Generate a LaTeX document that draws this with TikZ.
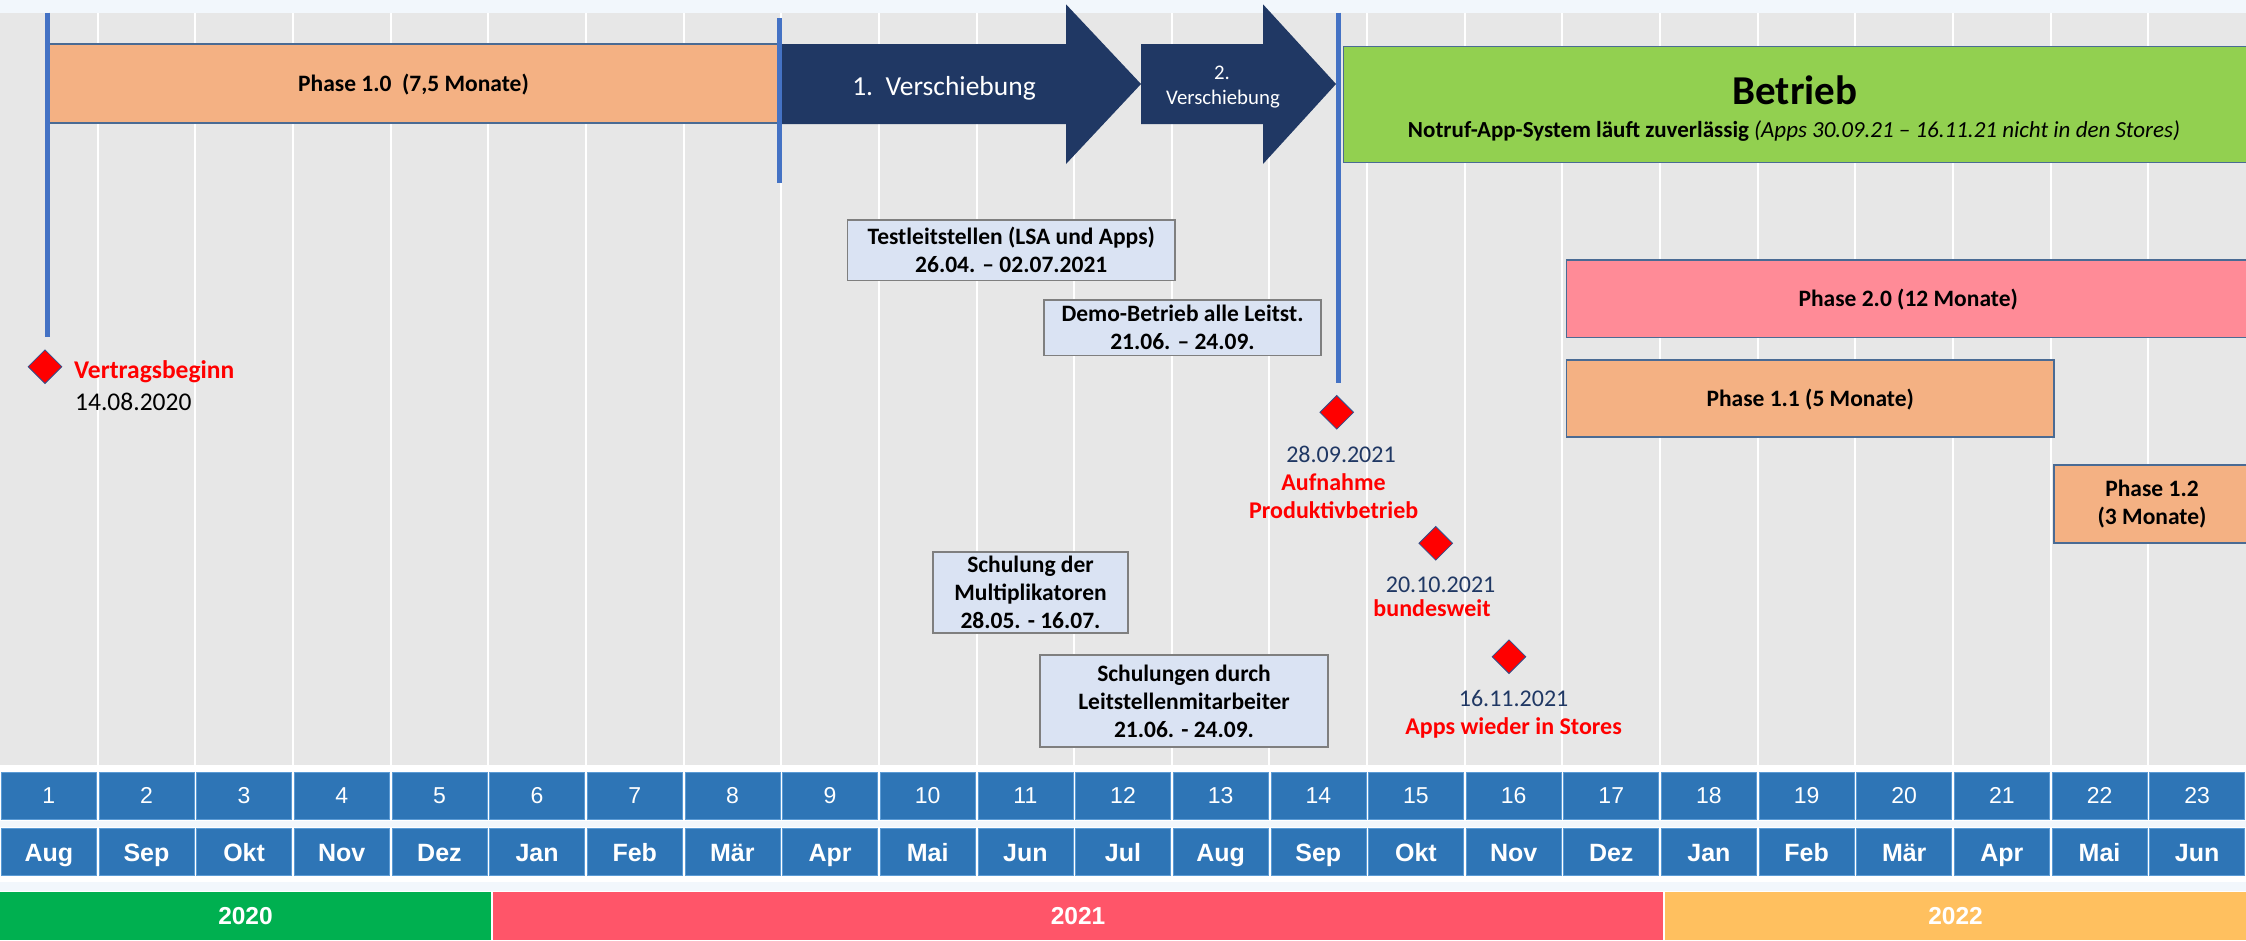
\documentclass[tikz,border=0pt]{standalone}
\usepackage{fontspec}
\setmainfont{Carlito}
\newfontfamily\arialfont{Liberation Sans}
\usetikzlibrary{shapes.geometric}

\definecolor{gridgrey}{HTML}{E7E7E7}
\definecolor{topband}{HTML}{F2F7FC}
\definecolor{phaseorange}{HTML}{F4B183}
\definecolor{phasepink}{HTML}{FF8B97}
\definecolor{betriebgreen}{HTML}{92D050}
\definecolor{navy}{HTML}{203864}
\definecolor{notefill}{HTML}{DAE3F3}
\definecolor{noteborder}{HTML}{7F7F7F}
\definecolor{markerblue}{HTML}{4472C4}
\definecolor{cellblue}{HTML}{2E75B6}
\definecolor{cellborder}{HTML}{5B9BD5}
\definecolor{boxedge}{HTML}{4A6B94}
\definecolor{yeargreen}{HTML}{00B050}
\definecolor{yearred}{HTML}{FF5569}
\definecolor{yearorange}{HTML}{FFC05F}
\definecolor{diamondedge}{HTML}{2F528F}

\newcommand\fsz[2]{\fontsize{#1}{#2}\selectfont}
\def\colw{97.652}

\begin{document}
\begin{tikzpicture}[x=1pt,y=-1pt,
  phasebox/.style={draw=boxedge, line width=1.2pt, inner sep=0pt,
    font=\fsz{23.5}{28}\bfseries, text height=15pt, text depth=0pt},
  phasebox2/.style={draw=boxedge, line width=1.2pt, inner sep=0pt,
    align=center, font=\fsz{23.5}{28}\bfseries},
  notebox/.style={draw=noteborder, line width=1.5pt, fill=notefill,
    inner sep=0pt, align=center, font=\fsz{23.5}{28}\bfseries},
  marker/.style={markerblue, line width=5pt},
  milestone/.style={diamond, draw=diamondedge, line width=0.8pt, fill=red,
    minimum width=34pt, minimum height=34pt, inner sep=0pt},
  datelabel/.style={anchor=base, text=navy, inner sep=0pt, font=\fsz{24}{28}},
  eventlabel/.style={anchor=base, text=red, inner sep=0pt, font=\fsz{24}{28}\bfseries},
  shiftlabel/.style={anchor=base, text=white, inner sep=0pt},
  numcell/.style={fill=cellblue, draw=cellborder, line width=0.6pt,
    minimum width=95pt, minimum height=46.7pt, inner sep=0pt, text=white,
    font=\arialfont\fsz{23}{28}},
  monthcell/.style={fill=cellblue, draw=cellborder, line width=0.6pt,
    minimum width=95pt, minimum height=47.4pt, inner sep=0pt, text=white,
    font=\arialfont\bfseries\fsz{25}{28}, text height=18pt, text depth=0pt},
  yearbar/.style={minimum height=48.3pt, inner sep=0pt, text=white,
    font=\arialfont\bfseries\fsz{24.5}{28}, text height=17.5pt, text depth=0pt}]

\useasboundingbox (0,0) rectangle (2246,940);

% background, month grid
\fill[white] (0,0) rectangle (2246,940);
\fill[topband] (0,0) rectangle (2246,12.7);
\fill[gridgrey] (0,12.7) rectangle (2246,765);
\foreach \k in {1,...,22}
  \draw[white, line width=2pt] ({\k*\colw},12.7) -- ({\k*\colw},765);
\fill[topband] (0,821) rectangle (2246,826.5);
\fill[topband] (0,881.7) rectangle (2246,891);

% phase 1.0
\node[phasebox, fill=phaseorange, minimum width=733pt, minimum height=79pt]
  (phase10) at (413.5,83.5) {Phase 1.0\ \ (7,5 Monate)};

% postponement arrows
\fill[navy] (779,44) -- (1066,44) -- (1066,4.3) -- (1141,84) -- (1066,164)
  -- (1066,124) -- (779,124) -- cycle;
\fill[navy] (1141,44) -- (1263,44) -- (1263,4.3) -- (1336,84) -- (1263,164)
  -- (1263,124) -- (1141,124) -- cycle;
\node[shiftlabel, font=\fsz{27.5}{32}] (shift1) at (944,95) {1.\ \ Verschiebung};
\node[shiftlabel, font=\fsz{20.8}{25}] (shift2a) at (1222,79) {2.};
\node[shiftlabel, font=\fsz{20.8}{25}] (shift2b) at (1223,104) {Verschiebung};

% operation
\node[draw=boxedge, line width=1.2pt, fill=betriebgreen, inner sep=0pt,
  minimum width=906.6pt, minimum height=116pt] (betrieb) at (1796.7,104.7) {};
\node[anchor=base, inner sep=0pt, font=\fsz{41}{45}\bfseries]
  (betriebtitle) at (1795,104) {Betrieb};
\node[anchor=base, inner sep=0pt, font=\fsz{23}{28}]
  (betriebnote) at (1794,137)
  {\bfseries Notruf-App-System läuft zuverlässig \mdseries\itshape(Apps 30.09.21 – 16.11.21 nicht in den Stores)};

% later phases
\node[phasebox, fill=phasepink, minimum width=683.6pt, minimum height=77.7pt]
  (phase20) at (1908.2,298.85) {Phase 2.0 (12 Monate)};
\node[phasebox, fill=phaseorange, minimum width=487.6pt, minimum height=77pt]
  (phase11) at (1810.2,398.5) {Phase 1.1 (5 Monate)};
\node[phasebox2, fill=phaseorange, minimum width=196pt, minimum height=78pt]
  (phase12) at (2152,504) {Phase 1.2\\(3 Monate)};

% test and training periods
\node[notebox, minimum width=327.5pt, minimum height=60.7pt] (testls) at (1011.25,250.35)
  {Testleitstellen (LSA und Apps)\\26.04. – 02.07.2021};
\node[notebox, minimum width=277pt, minimum height=55.3pt] (demo) at (1182.5,327.65)
  {Demo-Betrieb alle Leitst.\\21.06. – 24.09.};
\node[notebox, minimum width=195pt, minimum height=81pt] (multi) at (1030.5,592.5)
  {Schulung der\\Multiplikatoren\\28.05. - 16.07.};
\node[notebox, minimum width=288pt, minimum height=92pt] (lsschul) at (1184,701)
  {Schulungen durch\\Leitstellenmitarbeiter\\21.06. - 24.09.};

% time markers
\coordinate (m1top) at (47,12.7);
\coordinate (m1bot) at (47,337);
\coordinate (m2top) at (779,18);
\coordinate (m2bot) at (779,183);
\coordinate (m3top) at (1338,12.7);
\coordinate (m3bot) at (1338,383);
\draw[marker] (m1top) -- (m1bot);
\draw[marker] (m2top) -- (m2bot);
\draw[marker] (m3top) -- (m3bot);

% milestones
\node[milestone] (ms1) at (45,366.7) {};
\node[anchor=base west, inner sep=0pt, text=red, font=\fsz{25.5}{30}\bfseries]
  (ms1event) at (74,378.3) {Vertragsbeginn};
\node[anchor=base west, inner sep=0pt, text=black, font=\fsz{25.5}{30}]
  (ms1date) at (75,410) {14.08.2020};

\node[milestone] (ms2) at (1336.7,412.3) {};
\node[datelabel] (ms2date) at (1341,462.7) {28.09.2021};
\node[eventlabel] (ms2eventa) at (1333.5,490.7) {Aufnahme};
\node[eventlabel] (ms2eventb) at (1333.7,518.7) {Produktivbetrieb};

\node[milestone] (ms3) at (1435.7,543.3) {};
\node[datelabel] (ms3date) at (1440.6,592.7) {20.10.2021};
\node[eventlabel] (ms3event) at (1432,616.7) {bundesweit};

\node[milestone] (ms4) at (1509,656.7) {};
\node[datelabel] (ms4date) at (1513.6,706) {16.11.2021};
\node[eventlabel] (ms4event) at (1513.6,734) {Apps wieder in Stores};

% month numbers and names
\foreach \k in {1,...,23}
  \node[numcell] (num\k) at ({(\k-0.5)*\colw},795.6) {\k};
\foreach \m [count=\k] in {Aug,Sep,Okt,Nov,Dez,Jan,Feb,Mär,Apr,Mai,Jun,Jul,
    Aug,Sep,Okt,Nov,Dez,Jan,Feb,Mär,Apr,Mai,Jun}
  \node[monthcell] (mon\k) at ({(\k-0.5)*\colw},852) {\m};

% years
\node[yearbar, fill=yeargreen, minimum width=491pt] (y2020) at (245.5,915.85) {2020};
\node[yearbar, fill=yearred, minimum width=1170pt] (y2021) at (1078,915.85) {2021};
\node[yearbar, fill=yearorange, minimum width=581pt] (y2022) at (1955.5,915.85) {2022};

\end{tikzpicture}
\end{document}
